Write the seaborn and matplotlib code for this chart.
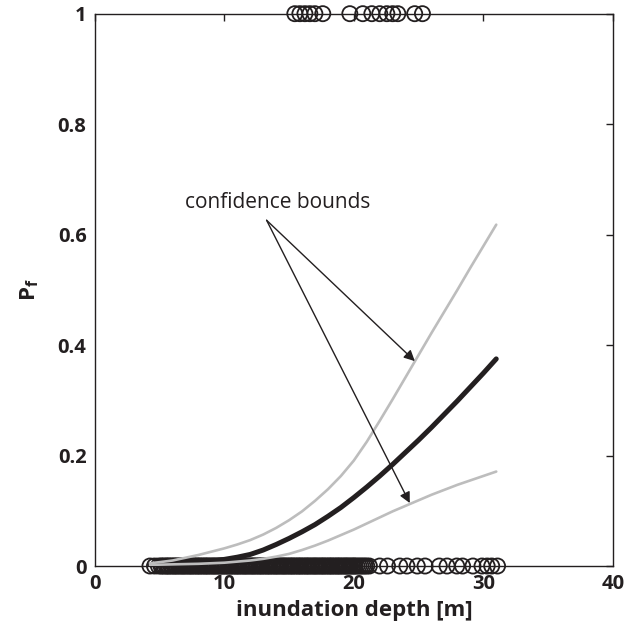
import numpy as np
import pandas as pd
import matplotlib
matplotlib.use("Agg")
import matplotlib.pyplot as plt
import seaborn as sns

# --- data ---
# observed inundation depths of damaged (Pf = 1) buildings
depth_damaged = [15.44, 15.83, 16.22, 16.6, 16.99, 17.6, 19.69, 20.69, 21.39,
                 22.0, 22.55, 23.0, 23.4, 24.7, 25.3]

# observed inundation depths of surviving (Pf = 0) buildings
depth_survived = [
    4.25, 4.6, 4.9, 5.1, 5.2, 5.35, 5.5, 5.6, 5.7, 5.85, 5.95, 6.1, 6.2, 6.3,
    6.45, 6.55, 6.7, 6.8, 6.9, 7.05, 7.15, 7.3, 7.4, 7.5, 7.65, 7.75, 7.9, 8.0,
    8.1, 8.25, 8.35, 8.5, 8.6, 8.7, 8.85, 8.95, 9.1, 9.2, 9.3, 9.45, 9.55, 9.7,
    9.8, 9.9, 10.05, 10.15, 10.3, 10.4, 10.5, 10.65, 10.75, 10.9, 11.0, 11.1,
    11.25, 11.35, 11.5, 11.6, 11.7, 11.85, 11.95, 12.1, 12.2, 12.3, 12.45,
    12.55, 12.7, 12.8, 12.9, 13.05, 13.15, 13.3, 13.4, 13.5, 13.65, 13.75,
    13.9, 14.0, 14.1, 14.25, 14.35, 14.5, 14.6, 14.7, 14.85, 14.95, 15.1,
    15.2, 15.3, 15.45, 15.55, 15.7, 15.8, 15.9, 16.05, 16.15, 16.3, 16.4,
    16.5, 16.65, 16.75, 16.9, 17.0, 17.1, 17.25, 17.35, 17.5, 17.6, 17.7,
    17.85, 17.95, 18.1, 18.2, 18.3, 18.45, 18.55, 18.7, 18.8, 18.9, 19.05,
    19.15, 19.3, 19.4, 19.5, 19.65, 19.75, 19.9, 20.0, 20.1, 20.25, 20.4,
    20.55, 20.7, 20.85, 21.0, 21.2,
    22.0, 22.6, 23.55, 24.1, 24.9, 25.5, 26.6, 27.2, 27.95, 28.4, 29.2, 29.9,
    30.3, 30.65, 31.1,
]

# fitted fragility curve and its confidence bounds
curve_depth = [4.25, 5, 6, 7, 8, 9, 10, 11, 12, 13, 14, 15, 16, 17, 18, 19,
               20, 21, 22, 23, 24, 25, 26, 27, 28, 29, 30, 31]
pf_fit = [0.002, 0.0025, 0.003, 0.0045, 0.006, 0.009, 0.012, 0.016, 0.021,
          0.029, 0.039, 0.05, 0.062, 0.075, 0.09, 0.106, 0.124, 0.143, 0.163,
          0.184, 0.206, 0.228, 0.251, 0.275, 0.299, 0.324, 0.349, 0.375]
pf_upper = [0.005, 0.007, 0.01, 0.015, 0.02, 0.026, 0.032, 0.039, 0.047,
            0.057, 0.069, 0.083, 0.099, 0.118, 0.139, 0.163, 0.191, 0.225,
            0.263, 0.302, 0.342, 0.382, 0.422, 0.461, 0.5, 0.54, 0.579, 0.618]
pf_lower = [0.002, 0.0025, 0.003, 0.0035, 0.004, 0.005, 0.006, 0.008, 0.01,
            0.013, 0.017, 0.022, 0.029, 0.037, 0.046, 0.056, 0.066, 0.077,
            0.088, 0.099, 0.109, 0.119, 0.129, 0.138, 0.147, 0.155, 0.163,
            0.171]

sns.set_style("white")
plt.rcParams['font.family'] = ['Open Sans', 'DejaVu Sans']
plt.rcParams['mathtext.fontset'] = 'custom'
plt.rcParams['mathtext.rm'] = 'Open Sans'
plt.rcParams['mathtext.bf'] = 'Open Sans:bold'

obs = pd.DataFrame({
    'depth': depth_damaged + depth_survived,
    'pf': [1] * len(depth_damaged) + [0] * len(depth_survived),
})
curves = pd.DataFrame({'depth': curve_depth, 'fit': pf_fit,
                       'upper': pf_upper, 'lower': pf_lower})

fig = plt.figure(figsize=(6.33, 6.28), dpi=100)
ax = fig.add_axes([0.150, 0.0987, 0.818, 0.8795])

# observations first, curves drawn over them (as in the original)
sns.scatterplot(data=obs, x='depth', y='pf', marker='o', s=118,
                facecolor='none', edgecolor='#231f20', linewidth=1.3,
                clip_on=False, zorder=2, ax=ax)
sns.lineplot(data=curves, x='depth', y='fit', color='#231f20', lw=3.6,
             zorder=3, ax=ax)
sns.lineplot(data=curves, x='depth', y='upper', color='#bdbdbd', lw=1.9,
             zorder=4, ax=ax)
sns.lineplot(data=curves, x='depth', y='lower', color='#bdbdbd', lw=1.9,
             zorder=4, ax=ax)

# annotation with two arrows
ax.text(14.09, 0.659, 'confidence bounds', fontsize=15, ha='center',
        va='center', color='#231f20')
for tip in [(24.71, 0.371), (24.32, 0.114)]:
    ax.annotate('', xy=tip, xytext=(13.26, 0.626),
                arrowprops=dict(arrowstyle='-|>', color='#231f20', lw=1.0,
                                mutation_scale=16, shrinkA=0, shrinkB=0),
                zorder=6)

ax.set_xlim(0, 40)
ax.set_ylim(0, 1)
ax.set_xticks([0, 10, 20, 30, 40])
ax.set_yticks([0, 0.2, 0.4, 0.6, 0.8, 1])
ax.set_yticklabels(['0', '0.2', '0.4', '0.6', '0.8', '1'])
ax.tick_params(direction='in', length=5, width=1, top=True, right=True,
               labelsize=14.5, pad=6, colors='#231f20')
for label in ax.get_xticklabels() + ax.get_yticklabels():
    label.set_fontweight('bold')
for spine in ax.spines.values():
    spine.set_linewidth(1.0)
    spine.set_color('#231f20')

ax.set_xlabel('inundation depth [m]', fontsize=16, fontweight='bold',
              labelpad=4, color='#231f20')
ax.set_ylabel(r'$\mathbf{P_f}$', fontsize=16, labelpad=12, color='#231f20')

fig.savefig('out.png', dpi=100)
